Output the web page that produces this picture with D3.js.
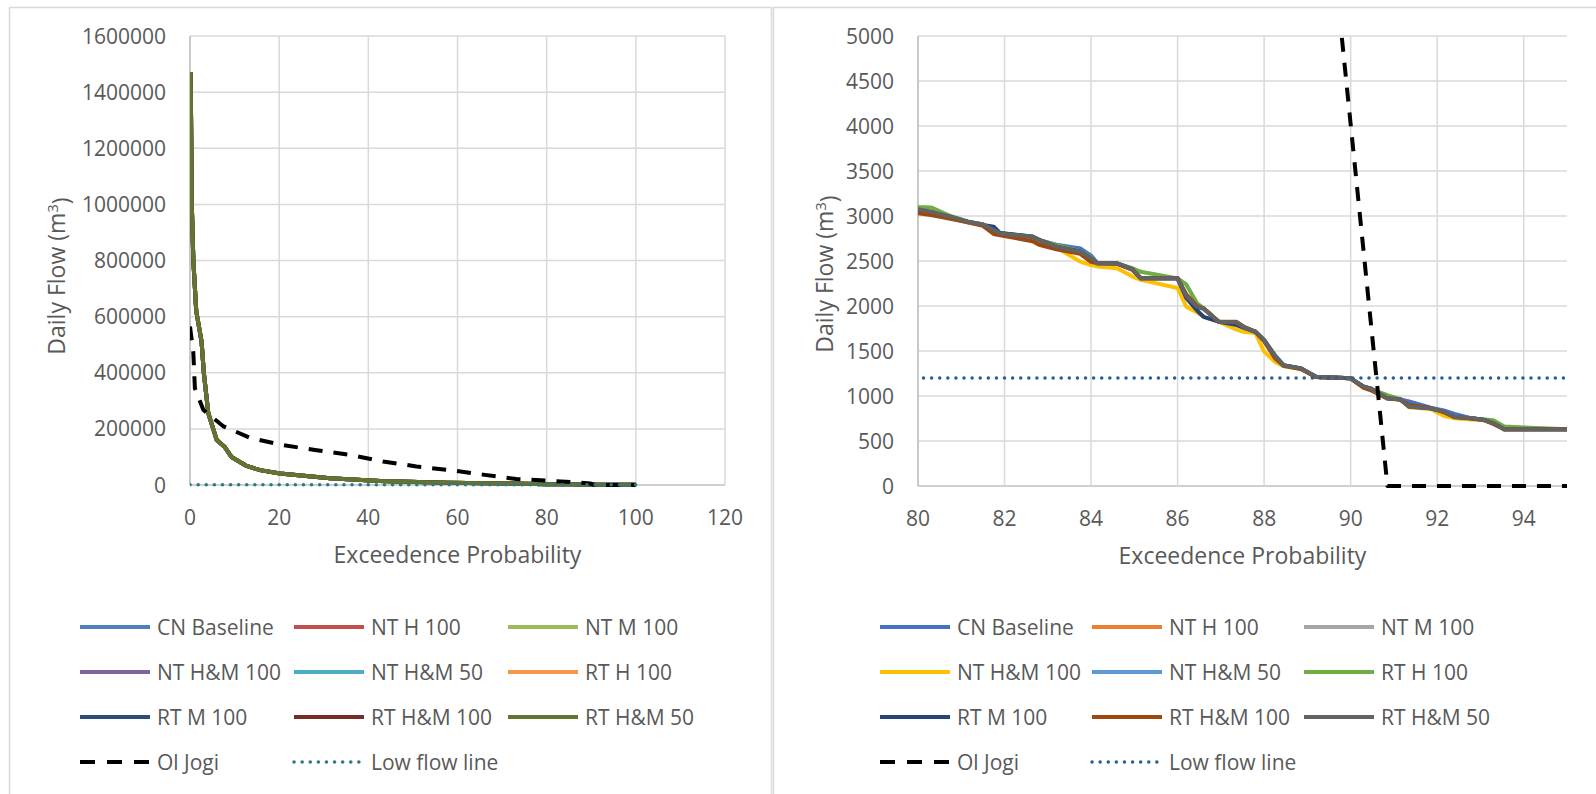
<!DOCTYPE html>
<html>
<head>
<meta charset="utf-8">
<script src="https://cdn.jsdelivr.net/npm/d3@7"></script>
<style>
  body { margin: 0; background: #fff; }
  svg text { font-family: 'Open Sans', 'Noto Sans', sans-serif; fill: #595959; }
</style>
</head>
<body>
<script>
// exceedence probability (%) and daily flow (m3)

// high flow part: the nine scenarios overlap completely here
const highP = [0.15, 0.4, 0.75, 1.4, 2.6, 3.1, 4.1, 6.0, 7.8, 9.3, 12.7, 15.7, 20.2, 31.4, 42.6, 57.5, 72.5]
const highQ = [1472000, 1000000, 800000, 620000, 510000, 400000, 256000, 160000, 135000, 100000, 68000, 53000, 41000, 24000, 14000, 8000, 5000]

// low flow part (the zoomed chart, 80 - 95 %)
const lowP = [80, 80.3, 80.75, 81.15, 81.5, 81.75, 81.9, 82.65, 82.8, 83.2, 83.75, 84.0, 84.15, 84.6, 84.95, 85.15,
  86.0, 86.2, 86.45, 86.6, 86.95, 87.35, 87.55, 87.8, 88.0, 88.25, 88.45, 88.85, 89.2, 90.0, 90.3, 90.45,
  90.85, 91.15, 91.35, 91.85, 92.15, 92.4, 92.8, 93.1, 93.3, 93.55, 95, 100]

const cnBaseline = [3070, 3045, 2990, 2935, 2905, 2845, 2805, 2768, 2730, 2680, 2640, 2560, 2474, 2474, 2410, 2307,
  2307, 2100, 1990, 1970, 1826, 1818, 1758, 1714, 1618, 1450, 1342, 1306, 1214, 1196, 1105, 1085,
  976, 962, 940, 870, 840, 800, 752, 733, 696, 630, 630, 600]
const ntH100 = [3050, 3030, 2980, 2930, 2900, 2840, 2800, 2765, 2728, 2655, 2600, 2525, 2474, 2470, 2405, 2307,
  2307, 2105, 1990, 1972, 1826, 1820, 1758, 1712, 1618, 1448, 1338, 1305, 1212, 1196, 1100, 1080,
  972, 962, 880, 862, 824, 768, 750, 732, 694, 630, 630, 600]
const ntM100 = [3065, 3042, 2990, 2935, 2905, 2842, 2805, 2768, 2731, 2657, 2601, 2528, 2474, 2472, 2408, 2307,
  2307, 2108, 1992, 1973, 1826, 1820, 1759, 1714, 1619, 1449, 1339, 1306, 1214, 1196, 1102, 1083,
  973, 962, 880, 862, 825, 769, 751, 732, 695, 630, 630, 600]
const ntHM100 = [3060, 3040, 2985, 2930, 2900, 2840, 2800, 2760, 2720, 2650, 2493, 2455, 2440, 2419, 2330, 2290,
  2200, 1993, 1930, 1880, 1826, 1740, 1710, 1700, 1493, 1380, 1330, 1300, 1210, 1196, 1095, 1075,
  970, 960, 875, 855, 780, 752, 740, 730, 690, 630, 630, 600]
const ntHM50 = [3068, 3044, 2991, 2936, 2906, 2843, 2806, 2769, 2732, 2662, 2610, 2535, 2474, 2473, 2409, 2307,
  2307, 2106, 1991, 1973, 1826, 1821, 1760, 1715, 1620, 1451, 1341, 1307, 1215, 1196, 1103, 1084,
  974, 963, 890, 864, 830, 772, 753, 734, 697, 630, 630, 600]
const rtH100 = [3100, 3095, 3000, 2940, 2905, 2850, 2810, 2772, 2735, 2675, 2610, 2540, 2474, 2474, 2420, 2380,
  2307, 2240, 2030, 1974, 1826, 1822, 1762, 1712, 1615, 1445, 1338, 1305, 1212, 1196, 1100, 1080,
  1010, 965, 885, 862, 822, 768, 750, 740, 730, 660, 630, 600]
const rtM100 = [3060, 3040, 2990, 2935, 2900, 2880, 2810, 2770, 2735, 2660, 2605, 2530, 2474, 2474, 2410, 2307,
  2307, 2090, 1950, 1880, 1826, 1790, 1755, 1712, 1620, 1437, 1340, 1305, 1212, 1196, 1100, 1085,
  974, 960, 885, 863, 826, 770, 752, 733, 696, 630, 630, 600]
const rtHM100 = [3030, 3010, 2970, 2930, 2890, 2800, 2785, 2720, 2680, 2630, 2580, 2490, 2474, 2470, 2405, 2307,
  2307, 2130, 2000, 1974, 1826, 1825, 1765, 1710, 1610, 1420, 1335, 1300, 1210, 1196, 1090, 1067,
  974, 960, 900, 866, 820, 765, 750, 730, 690, 630, 630, 600]
const rtHM50 = [3074, 3048, 2993, 2937, 2907, 2844, 2807, 2770, 2733, 2659, 2603, 2530, 2474, 2474, 2410, 2307,
  2307, 2110, 1993, 1974, 1826, 1820, 1760, 1715, 1620, 1450, 1340, 1307, 1215, 1196, 1104, 1085,
  974, 963, 881, 863, 826, 770, 752, 733, 696, 630, 630, 600]

const olJogiP = [0, 0.75, 1.1, 3, 7.4, 13.5, 20.9, 28.4, 35.9, 43.3, 50.8, 58.3, 65.7, 73.2, 80.7, 86, 89.75, 90.85, 100]
const olJogiQ = [565000, 470000, 345000, 267000, 210000, 168000, 142000, 124000, 107000, 84000, 66000, 53000, 37000, 21000, 15000, 10000, 5200, 0, 0]

const lowFlowP = [0, 100]
const lowFlowQ = [1200, 1200]

const scenarioNames = ['CN Baseline', 'NT H 100', 'NT M 100', 'NT H&M 100', 'NT H&M 50', 'RT H 100', 'RT M 100', 'RT H&M 100', 'RT H&M 50']
const scenarioLows = [cnBaseline, ntH100, ntM100, ntHM100, ntHM50, rtH100, rtM100, rtHM100, rtHM50]

// left chart uses the old office palette, right one the newer one
const leftColors = ['#4F81BD', '#C0504D', '#9BBB59', '#8064A2', '#4BACC6', '#F79646', '#2C4D75', '#772C2A', '#5F7530']
const rightColors = ['#4472C4', '#ED7D31', '#A5A5A5', '#FFC000', '#5B9BD5', '#70AD47', '#264478', '#9E480E', '#636363']

const leftXTicks = [0, 20, 40, 60, 80, 100, 120]
const leftYTicks = [0, 200000, 400000, 600000, 800000, 1000000, 1200000, 1400000, 1600000]
const rightXTicks = [80, 82, 84, 86, 88, 90, 92, 94]
const rightYTicks = [0, 500, 1000, 1500, 2000, 2500, 3000, 3500, 4000, 4500, 5000]

const W = 1596, H = 794

let svg = d3.select('body').append('svg')
    .attr('width', W)
    .attr('height', H)

// panel frames
svg.append('rect')
    .attr('x', 9.5).attr('y', 7.5)
    .attr('width', 762).attr('height', 800)
    .style('fill', 'none').style('stroke', '#d9d9d9').style('stroke-width', 1.5)
svg.append('rect')
    .attr('x', 773.5).attr('y', 7.5)
    .attr('width', 840).attr('height', 800)
    .style('fill', 'none').style('stroke', '#d9d9d9').style('stroke-width', 1.5)

function series() {
  let out = scenarioNames.map((name, i) => ({
    name,
    type: 'scenario',
    points: highP.map((p, j) => [p, highQ[j]])
      .concat(lowP.map((p, j) => [p, scenarioLows[i][j]]))
  }))
  out.push({ name: 'Ol Jogi', type: 'oljogi', points: olJogiP.map((p, j) => [p, olJogiQ[j]]) })
  out.push({ name: 'Low flow line', type: 'lowflow', points: lowFlowP.map((p, j) => [p, lowFlowQ[j]]) })
  return out
}

function drawChart(s) {
  let g = svg.append('g')
  let x = d3.scaleLinear().domain(s.xDomain).range([s.left, s.right])
  let y = d3.scaleLinear().domain(s.yDomain).range([s.bottom, s.top])

  let clipId = 'clip-' + s.id
  g.append('clipPath').attr('id', clipId)
    .append('rect')
      .attr('x', s.left).attr('y', s.top - 3)
      .attr('width', s.right - s.left).attr('height', s.bottom - s.top + 6)

  // gridlines
  g.append('g')
    .selectAll('line.hgrid')
    .data(s.yTicks)
    .enter().append('line')
      .attr('x1', s.left).attr('x2', s.right)
      .attr('y1', d => y(d)).attr('y2', d => y(d))
      .style('stroke', d => d === 0 ? '#bfbfbf' : '#d9d9d9')
      .style('stroke-width', 1.5)

  g.append('g')
    .selectAll('line.vgrid')
    .data(s.xTicks)
    .enter().append('line')
      .attr('x1', d => x(d)).attr('x2', d => x(d))
      .attr('y1', s.top).attr('y2', s.bottom)
      .style('stroke', (d, i) => i === 0 ? '#c8c8c8' : '#d9d9d9')
      .style('stroke-width', (d, i) => i === 0 ? 2 : 1.5)

  // tick labels
  g.append('g')
    .selectAll('text')
    .data(s.yTicks)
    .enter().append('text')
      .attr('x', s.left - 24)
      .attr('y', d => y(d))
      .attr('dy', '0.36em')
      .attr('text-anchor', 'end')
      .style('font-size', '21px')
      .text(d => d3.format('d')(d))

  g.append('g')
    .selectAll('text')
    .data(s.xTicks)
    .enter().append('text')
      .attr('x', d => x(d))
      .attr('y', s.bottom + 40)
      .attr('text-anchor', 'middle')
      .style('font-size', '21px')
      .text(d => d)

  // axis titles
  g.append('text')
    .attr('x', (s.left + s.right) / 2)
    .attr('y', s.bottom + 78)
    .attr('text-anchor', 'middle')
    .style('font-size', '23px')
    .text('Exceedence Probability')

  let yt = g.append('text')
    .attr('transform', `translate(${ s.yTitleX },${ s.yTitleY }) rotate(-90)`)
    .attr('text-anchor', 'middle')
    .style('font-size', '23px')
  yt.append('tspan').text('Daily Flow (m')
  yt.append('tspan').attr('dy', '-0.45em').style('font-size', '15px').text('3')
  yt.append('tspan').attr('dy', '0.45em').text(')')

  // lines
  let line = d3.line()
    .x(d => x(d[0]))
    .y(d => y(d[1]))

  let data = series()
  let plot = g.append('g').attr('clip-path', `url(#${ clipId })`)

  plot.selectAll('path')
    .data(data)
    .enter().append('path')
      .attr('d', d => line(d.points))
      .style('fill', 'none')
      .style('stroke', (d, i) => styleOf(d, i, s).color)
      .style('stroke-width', d => d.type === 'lowflow' ? 3.5 : 4)
      .style('stroke-dasharray', d => styleOf(d, 0, s).dash)
      .style('stroke-linecap', d => d.type === 'lowflow' ? 'round' : 'butt')
      .style('stroke-linejoin', 'round')

  // legend, 3 columns
  let legend = g.append('g')
  let item = legend.selectAll('g.legend')
    .data(data)
    .enter().append('g')
      .attr('class', 'legend')
      .attr('transform', (d, i) => `translate(${ s.legendCols[i % 3] },${ s.legendRows[Math.floor(i / 3)] })`)

  item.append('line')
    .attr('x1', 0).attr('x2', 70)
    .attr('y1', 0).attr('y2', 0)
    .style('stroke', (d, i) => styleOf(d, i, s).color)
    .style('stroke-width', d => d.type === 'lowflow' ? 3.5 : 4)
    .style('stroke-dasharray', d => d.type === 'oljogi' ? '15,12' : d.type === 'lowflow' ? '0.1,8' : null)
    .style('stroke-linecap', d => d.type === 'lowflow' ? 'round' : 'butt')

  item.append('text')
    .attr('x', 77)
    .attr('dy', '0.36em')
    .style('font-size', '21px')
    .text(d => d.name)
}

function styleOf(d, i, s) {
  if (d.type === 'oljogi') return { color: '#000', dash: '14,11' }
  if (d.type === 'lowflow') return { color: s.lowColor, dash: '0.1,8' }
  return { color: s.colors[i], dash: null }
}

drawChart({
  id: 'left',
  left: 190, right: 725, top: 36, bottom: 485,
  xDomain: [0, 120], yDomain: [0, 1600000],
  xTicks: leftXTicks, yTicks: leftYTicks,
  colors: leftColors, lowColor: '#2A7A8C',
  yTitleX: 65, yTitleY: 276,
  legendCols: [80, 294, 508],
  legendRows: [627, 672, 717, 762]
})

drawChart({
  id: 'right',
  left: 918, right: 1567, top: 36, bottom: 486,
  xDomain: [80, 95], yDomain: [0, 5000],
  xTicks: rightXTicks, yTicks: rightYTicks,
  colors: rightColors, lowColor: '#2E5F8F',
  yTitleX: 833, yTitleY: 274,
  legendCols: [880, 1092, 1304],
  legendRows: [627, 672, 717, 762]
})
</script>
</body>
</html>
